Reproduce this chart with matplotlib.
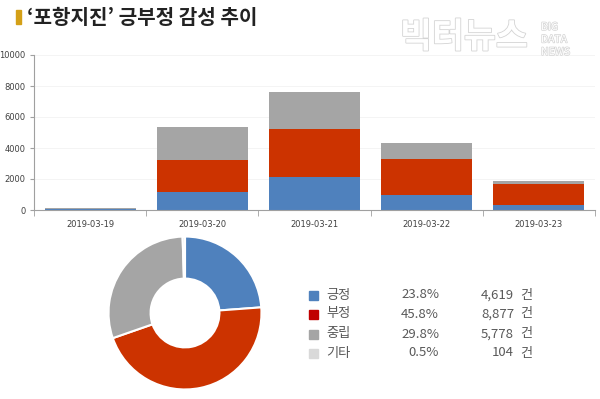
import matplotlib
matplotlib.use("Agg")
import matplotlib.pyplot as plt
import matplotlib.patheffects as pe
import numpy as np

plt.rcParams['font.family'] = ['Noto Sans CJK KR', 'DejaVu Sans']

dates = ['2019-03-19', '2019-03-20', '2019-03-21', '2019-03-22', '2019-03-23']
positive = [39, 1150, 2150, 950, 330]
negative = [27, 2100, 3050, 2350, 1350]
neutral = [78, 2100, 2400, 1000, 200]
y_ticks = [0, 2000, 4000, 6000, 8000, 10000]

labels = ['긍정', '부정', '중립', '기타']
shares = [23.8, 45.8, 29.8, 0.5]
counts = [4619, 8877, 5778, 104]
colors = ['#4f81bd', '#cc3300', '#a5a5a5', '#d9d9d9']
legend_colors = ['#4f81bd', '#c00000', '#a5a5a5', '#d9d9d9']

W, H = 600, 399
fig = plt.figure(figsize=(6, 3.99), dpi=100)
fig.patch.set_facecolor('white')

def px(x0, y0, x1, y1):
    return [x0 / W, 1 - y1 / H, (x1 - x0) / W, (y1 - y0) / H]

# Title
fig.patches.append(plt.Rectangle((16 / W, 1 - 24 / H), 5 / W, 14 / H,
                                 transform=fig.transFigure, color='#d4a017'))
fig.text(27 / W, 1 - 17 / H, '‘포항지진’ 긍부정 감성 추이', fontsize=14.5,
         fontweight='bold', color='#222222', va='center', ha='left')

# Watermark
wm = fig.text(400 / W, 1 - 37 / H, '빅터뉴스', fontsize=25, color='white',
              va='center', ha='left', fontweight='bold')
wm.set_path_effects([pe.withStroke(linewidth=1.2, foreground='#d4d4d4')])
for i, t in enumerate(['BIG', 'DATA', 'NEWS']):
    tt = fig.text(541 / W, 1 - (27 + i * 12.5) / H, t, fontsize=7.5, color='white',
                  va='center', ha='left')
    tt.set_path_effects([pe.withStroke(linewidth=1.0, foreground='#d4d4d4')])

# Bar chart
ax = fig.add_axes(px(34, 55, 595, 210))
x = np.arange(len(dates))
bw = 0.81
pos = np.array(positive)
neg = np.array(negative)
neu = np.array(neutral)
ax.bar(x, pos, bw, color=colors[0], linewidth=0)
ax.bar(x, neg, bw, bottom=pos, color=colors[1], linewidth=0)
ax.bar(x, neu, bw, bottom=pos + neg, color=colors[2], linewidth=0)
ax.set_xlim(-0.5, len(dates) - 0.5)
ax.set_ylim(0, 10000)
ax.set_yticks(y_ticks)
ax.set_yticklabels([str(v) for v in y_ticks], fontsize=6, color='#404040',
                   family=['DejaVu Sans'])
ax.set_xticks(x)
ax.set_xticklabels(dates, fontsize=6, color='#404040', family=['DejaVu Sans'])
ax.set_xticks(np.arange(-0.5, len(dates)), minor=True)
ax.tick_params(axis='x', which='major', length=0, pad=7)
ax.tick_params(axis='x', which='minor', length=4, color='#a0a0a0', direction='out')
ax.tick_params(axis='y', length=3, color='#a0a0a0', pad=3)
ax.grid(axis='y', color='#f2f2f2', linewidth=0.6)
ax.set_axisbelow(True)
for s in ['top', 'right']:
    ax.spines[s].set_visible(False)
for s in ['left', 'bottom']:
    ax.spines[s].set_color('#a0a0a0')
    ax.spines[s].set_linewidth(0.8)

# Donut
ax2 = fig.add_axes(px(107, 235, 263, 391))
ax2.pie(shares, colors=colors, startangle=90, counterclock=False, radius=1.0,
        wedgeprops=dict(width=0.55, edgecolor='white', linewidth=1.5))
ax2.set_xlim(-1.02, 1.02)
ax2.set_ylim(-1.02, 1.02)
ax2.set_aspect('equal')
ax2.axis('off')

# Legend
row_y = [295, 314, 334, 353]
for i in range(len(labels)):
    y = 1 - row_y[i] / H
    fig.patches.append(plt.Rectangle((309 / W, y - 5 / H), 9 / W, 9 / H,
                                     transform=fig.transFigure, color=legend_colors[i]))
    fig.text(326 / W, y, labels[i], fontsize=9.5, color='#595959', va='center', ha='left')
    fig.text(439 / W, y, f'{shares[i]:.1f}%', fontsize=9.5, color='#595959',
             va='center', ha='right')
    fig.text(514 / W, y, f'{counts[i]:,}', fontsize=9.5, color='#595959',
             va='center', ha='right')
    fig.text(520 / W, y, '건', fontsize=9.5, color='#595959', va='center', ha='left')

fig.savefig('out.png', dpi=100)
